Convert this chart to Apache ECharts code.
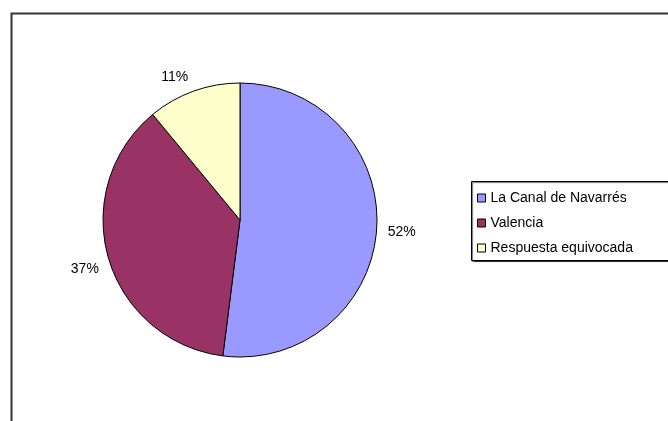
<!DOCTYPE html>
<html>
<head>
<meta charset="utf-8">
<script src="https://cdn.jsdelivr.net/npm/echarts@6/dist/echarts.min.js"></script>
<style>html,body{margin:0;padding:0;background:#fff;}#c{width:668px;height:421px;}</style>
</head>
<body>
<div id="c"></div>
<script>
const categories = ['La Canal de Navarrés', 'Valencia', 'Respuesta equivocada'];
const values = [52, 37, 11];
const colors = ['#9999FF', '#993366', '#FFFFCC'];

// small label nudges to mimic the original placement
const labelShift = [[-4, 3], [5, 8], [3, -5]];

const chart = echarts.init(document.getElementById('c'), null, {renderer: 'canvas'});
chart.setOption({
  animation: false,
  backgroundColor: '#fff',
  textStyle: {fontFamily: 'Liberation Sans, Arial, sans-serif'},
  graphic: [
    {type: 'rect', shape: {x: 11.5, y: 13.5, width: 720, height: 500}, style: {fill: 'none', stroke: '#333', lineWidth: 2}},
    {type: 'rect', shape: {x: 471.5, y: 181.5, width: 260, height: 79}, style: {fill: '#fff', stroke: '#000', lineWidth: 1, shadowColor: 'rgba(0,0,0,0.6)', shadowOffsetX: 1, shadowOffsetY: 1, shadowBlur: 1}}
  ],
  legend: {
    orient: 'vertical',
    left: 477,
    top: 191,
    itemWidth: 8,
    itemHeight: 8,
    itemGap: 11,
    icon: 'rect',
    padding: 0,
    textStyle: {fontSize: 14, color: '#000', lineHeight: 14, padding: [0,0,0,0]},
    itemStyle: {borderColor: '#000', borderWidth: 1},
    data: categories
  },
  series: [{
    type: 'pie',
    center: [240, 220],
    radius: 137,
    startAngle: 90,
    clockwise: true,
    data: categories.map((n, i) => ({name: n, value: values[i], itemStyle: {color: colors[i]}})),
    itemStyle: {borderColor: '#000', borderWidth: 1},
    label: {
      show: true,
      position: 'outside',
      formatter: p => Math.round(p.percent) + '%',
      fontSize: 14,
      color: '#000'
    },
    labelLine: {show: false, length: 10, length2: 0},
    labelLayout: p => ({dx: labelShift[p.dataIndex][0], dy: labelShift[p.dataIndex][1]}),
    emphasis: {disabled: true}
  }]
});
</script>
</body>
</html>
